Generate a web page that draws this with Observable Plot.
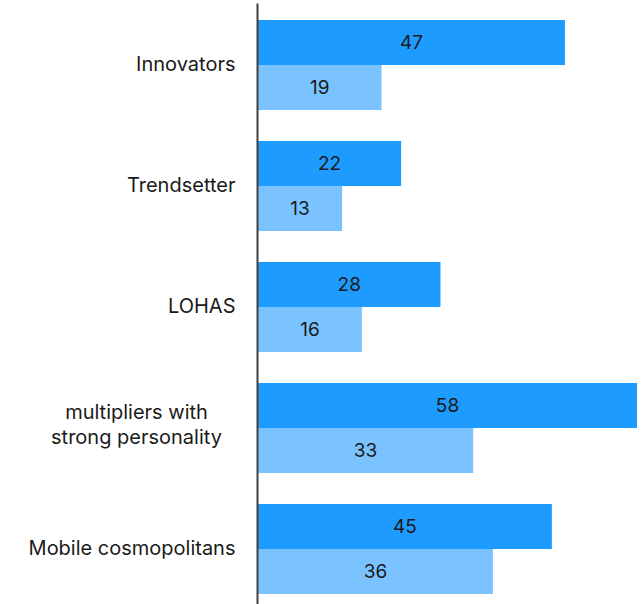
<!DOCTYPE html>
<html><head><meta charset="utf-8">
<script src="https://cdn.jsdelivr.net/npm/d3@7"></script>
<script src="https://cdn.jsdelivr.net/npm/@observablehq/plot@0.6"></script>
<style>body{margin:0;background:#fff}</style>
</head><body><div id="chart"></div>
<script>
const categories = ["Innovators","Trendsetter","LOHAS","multipliers with strong personality","Mobile cosmopolitans"];
const categoryLabels = ["Innovators","Trendsetter","LOHAS","multipliers with\nstrong personality","Mobile cosmopolitans"];
const seriesNames = ["Series 1","Series 2"];
const series1 = [47,22,28,58,45];
const series2 = [19,13,16,33,36];
const colors = ["#1e9bff","#7ac3ff"];

const rows = categories.flatMap((c,i)=>[
  {category:c, series:seriesNames[0], value:series1[i]},
  {category:c, series:seriesNames[1], value:series2[i]}
]);
const labelRows = categories.map((c,i)=>({category:c, label:categoryLabels[i], multi:categoryLabels[i].includes("\n")}));

const chart = Plot.plot({
  width:643, height:604,
  marginLeft:257, marginRight:6, marginTop:4, marginBottom:0,
  style:{fontFamily:"Inter, sans-serif", fontSize:"20px", color:"#1a1a1a", background:"#fff"},
  x:{domain:[0,58], axis:null},
  y:{domain:seriesNames, padding:0, axis:null},
  fy:{domain:categories, axis:null, range:[4,609], paddingInner:0.25, paddingOuter:0.125},
  color:{domain:seriesNames, range:colors},
  marks:[
    Plot.barX(rows,{fy:"category", y:"series", x:"value", fill:"series"}),
    Plot.text(rows,{fy:"category", y:"series", x:d=>d.value/2, text:d=>String(d.value), fill:"#1a1a1a", fontSize:19}),
    Plot.text(labelRows.filter(d=>!d.multi),{fy:"category", x:0, text:"label", textAnchor:"end", dx:-22, fill:"#1a1a1a", fontSize:20}),
    Plot.text(labelRows.filter(d=>d.multi),{fy:"category", x:0, text:"label", textAnchor:"middle", dx:-121, dy:-5, lineHeight:1.25, fill:"#1a1a1a", fontSize:20}),
    Plot.frame({anchor:"left", facet:"super", stroke:"#404040", strokeWidth:2, insetTop:-15, insetBottom:-10})
  ]
});
document.getElementById("chart").append(chart);
</script>
</body></html>
